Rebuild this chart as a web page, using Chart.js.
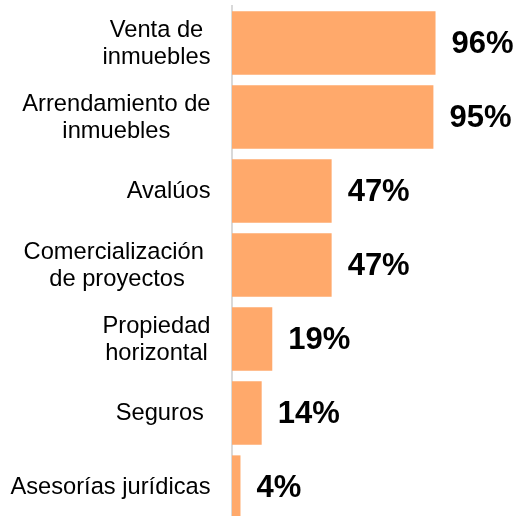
<!DOCTYPE html>
<html><head><meta charset="utf-8">
<script src="https://cdn.jsdelivr.net/npm/chart.js@4.4.1/dist/chart.umd.min.js"></script>
<style>html,body{margin:0;padding:0;overflow:hidden;background:#fff}#wrap{position:absolute;left:0;top:0;width:518px;height:530px}</style>
</head><body><div id="wrap"><canvas id="c" width="518" height="530"></canvas></div>
<script>
const categories = [["Venta de","inmuebles"],["Arrendamiento de","inmuebles"],["Avalúos"],["Comercialización ","de proyectos"],["Propiedad","horizontal"],["Seguros "],["Asesorías jurídicas"]];
const values = [96,95,47,47,19,14,4];
const valueLabels = ["96%","95%","47%","47%","19%","14%","4%"];

const FONT = '"Liberation Sans", Arial, sans-serif';

const catLabelPlugin = {
  id: 'catLabels',
  afterDraw(chart) {
    const ctx = chart.ctx, ys = chart.scales.y;
    ctx.save();
    ctx.font = '23.7px ' + FONT;
    ctx.fillStyle = '#000';
    ctx.textBaseline = 'alphabetic';
    ctx.textAlign = 'center';
    const rightEdge = ys.right - 21.5;
    const lh = 27;
    categories.forEach((lines, i) => {
      const yc = ys.getPixelForTick(i);
      const w = Math.max(...lines.map(l => ctx.measureText(l).width));
      const cx = rightEdge - w / 2;
      lines.forEach((l, j) => {
        ctx.fillText(l, cx, yc + 7 + (j - (lines.length - 1) / 2) * lh);
      });
    });
    ctx.restore();
  }
};

const valueLabelPlugin = {
  id: 'valueLabels',
  afterDatasetsDraw(chart) {
    const ctx = chart.ctx;
    const meta = chart.getDatasetMeta(0);
    ctx.save();
    ctx.font = 'bold 31px ' + FONT;
    ctx.fillStyle = '#000';
    ctx.textAlign = 'left';
    ctx.textBaseline = 'middle';
    meta.data.forEach((bar, i) => {
      ctx.fillText(valueLabels[i], bar.x + 16, bar.y + 1);
    });
    ctx.restore();
  }
};

new Chart(document.getElementById('c'), {
  type: 'bar',
  data: {
    labels: categories,
    datasets: [{
      data: values,
      backgroundColor: '#FFA96B',
      borderWidth: 0,
      categoryPercentage: 1,
      barPercentage: 0.855
    }]
  },
  options: {
    indexAxis: 'y',
    responsive: false,
    animation: false,
    devicePixelRatio: 1,
    layout: { padding: { left: 0, right: 74, top: 6, bottom: 6 } },
    plugins: { legend: { display: false }, tooltip: { enabled: false } },
    scales: {
      x: { display: false, min: 0, max: 100 },
      y: {
        grid: { display: false, drawTicks: false },
        border: { display: true, color: '#D9D9D9', width: 2 },
        ticks: { display: false },
        afterFit(s) { s.width = 232; }
      }
    }
  },
  plugins: [catLabelPlugin, valueLabelPlugin]
});
</script></body></html>
